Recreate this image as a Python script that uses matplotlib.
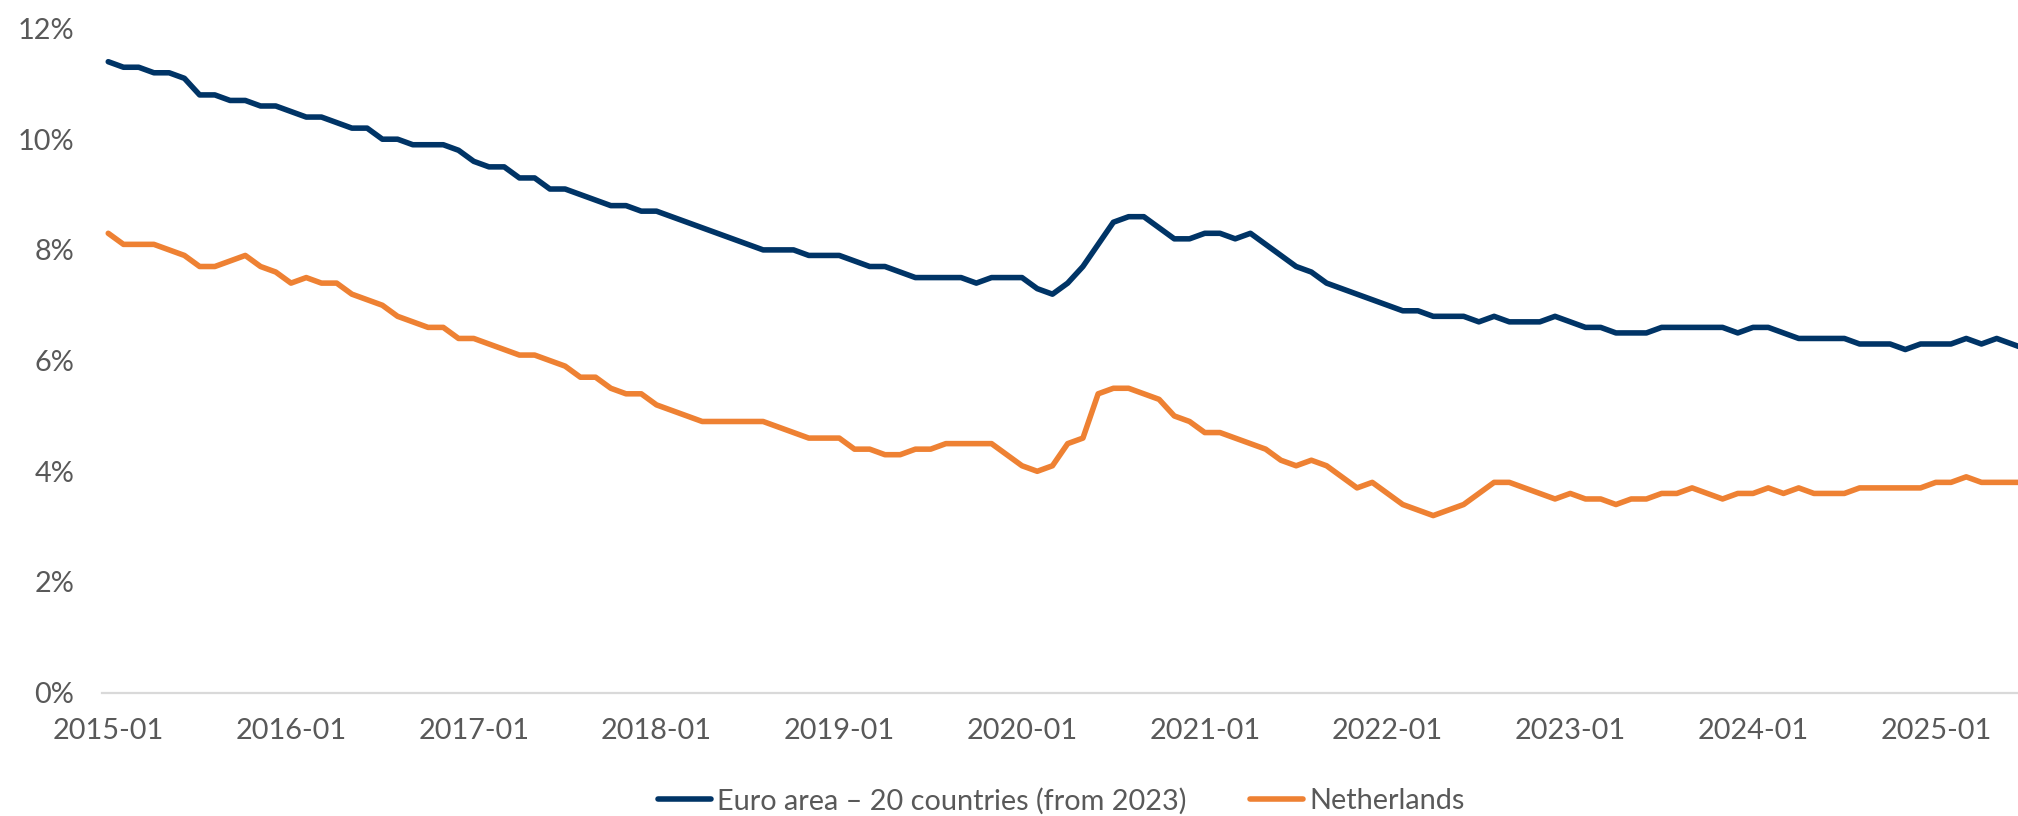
import matplotlib
matplotlib.use("Agg")
import matplotlib.pyplot as plt
import pandas as pd

# ---- data -------------------------------------------------------------
start_month = "2015-01"
tick_labels = ["2015-01", "2016-01", "2017-01", "2018-01", "2019-01", "2020-01",
               "2021-01", "2022-01", "2023-01", "2024-01", "2025-01"]
series_names = ["Euro area \u2013 20 countries (from 2023)", "Netherlands"]

euro_area = [
    11.4, 11.3, 11.3, 11.2, 11.2, 11.1, 10.8, 10.8, 10.7, 10.7, 10.6, 10.6,
    10.5, 10.4, 10.4, 10.3, 10.2, 10.2, 10.0, 10.0, 9.9, 9.9, 9.9, 9.8,
    9.6, 9.5, 9.5, 9.3, 9.3, 9.1, 9.1, 9.0, 8.9, 8.8, 8.8, 8.7,
    8.7, 8.6, 8.5, 8.4, 8.3, 8.2, 8.1, 8.0, 8.0, 8.0, 7.9, 7.9,
    7.9, 7.8, 7.7, 7.7, 7.6, 7.5, 7.5, 7.5, 7.5, 7.4, 7.5, 7.5,
    7.5, 7.3, 7.2, 7.4, 7.7, 8.1, 8.5, 8.6, 8.6, 8.4, 8.2, 8.2,
    8.3, 8.3, 8.2, 8.3, 8.1, 7.9, 7.7, 7.6, 7.4, 7.3, 7.2, 7.1,
    7.0, 6.9, 6.9, 6.8, 6.8, 6.8, 6.7, 6.8, 6.7, 6.7, 6.7, 6.8,
    6.7, 6.6, 6.6, 6.5, 6.5, 6.5, 6.6, 6.6, 6.6, 6.6, 6.6, 6.5,
    6.6, 6.6, 6.5, 6.4, 6.4, 6.4, 6.4, 6.3, 6.3, 6.3, 6.2, 6.3,
    6.3, 6.3, 6.4, 6.3, 6.4, 6.3, 6.2,
]
netherlands = [
    8.3, 8.1, 8.1, 8.1, 8.0, 7.9, 7.7, 7.7, 7.8, 7.9, 7.7, 7.6,
    7.4, 7.5, 7.4, 7.4, 7.2, 7.1, 7.0, 6.8, 6.7, 6.6, 6.6, 6.4,
    6.4, 6.3, 6.2, 6.1, 6.1, 6.0, 5.9, 5.7, 5.7, 5.5, 5.4, 5.4,
    5.2, 5.1, 5.0, 4.9, 4.9, 4.9, 4.9, 4.9, 4.8, 4.7, 4.6, 4.6,
    4.6, 4.4, 4.4, 4.3, 4.3, 4.4, 4.4, 4.5, 4.5, 4.5, 4.5, 4.3,
    4.1, 4.0, 4.1, 4.5, 4.6, 5.4, 5.5, 5.5, 5.4, 5.3, 5.0, 4.9,
    4.7, 4.7, 4.6, 4.5, 4.4, 4.2, 4.1, 4.2, 4.1, 3.9, 3.7, 3.8,
    3.6, 3.4, 3.3, 3.2, 3.3, 3.4, 3.6, 3.8, 3.8, 3.7, 3.6, 3.5,
    3.6, 3.5, 3.5, 3.4, 3.5, 3.5, 3.6, 3.6, 3.7, 3.6, 3.5, 3.6,
    3.6, 3.7, 3.6, 3.7, 3.6, 3.6, 3.6, 3.7, 3.7, 3.7, 3.7, 3.7,
    3.8, 3.8, 3.9, 3.8, 3.8, 3.8, 3.8,
]
y_ticks = [0, 2, 4, 6, 8, 10, 12]

# ---- figure -----------------------------------------------------------
plt.rcParams['font.family'] = ['Lato', 'DejaVu Sans']

W, H = 2018, 816
fig = plt.figure(figsize=(W / 100, H / 100), dpi=100)
ax = fig.add_axes([102 / W, 1 - 692.7 / H, 1 - 102 / W, (692.7 - 28.5) / H])

months = pd.date_range(start_month, periods=len(euro_area), freq="MS")
labels_all = months.strftime("%Y-%m")
x = list(range(len(months)))

blue = "#003466"
orange = "#EE8133"
text_col = "#595959"

ax.plot(x, euro_area, color=blue, lw=4.0, solid_joinstyle="round",
        solid_capstyle="round", label=series_names[0])
ax.plot(x, netherlands, color=orange, lw=4.0, solid_joinstyle="round",
        solid_capstyle="round", label=series_names[1])

ax.set_ylim(0, 12)
ax.set_xlim(-0.41, 125.4)
ax.set_yticks(y_ticks)
ax.set_yticklabels([f"{v}%" for v in y_ticks])
tick_pos = [list(labels_all).index(t) for t in tick_labels]
ax.set_xticks(tick_pos)
ax.set_xticklabels(tick_labels)

for s in ["top", "right", "left"]:
    ax.spines[s].set_visible(False)
ax.spines["bottom"].set_color("#D9D9D9")
ax.spines["bottom"].set_linewidth(1.6)
ax.spines["bottom"].set_zorder(0)

ax.tick_params(axis="both", length=0, labelsize=20.8, colors=text_col)
ax.tick_params(axis="y", pad=20)
ax.tick_params(axis="x", pad=18)

leg = fig.legend(loc="center", bbox_to_anchor=(1061 / W, 1 - 801 / H),
                 ncol=2, frameon=False, fontsize=20.8, handlelength=1.85,
                 handletextpad=0.2, columnspacing=2.2, borderpad=0)
for t in leg.get_texts():
    t.set_color(text_col)

fig.savefig("out.png", dpi=100)
